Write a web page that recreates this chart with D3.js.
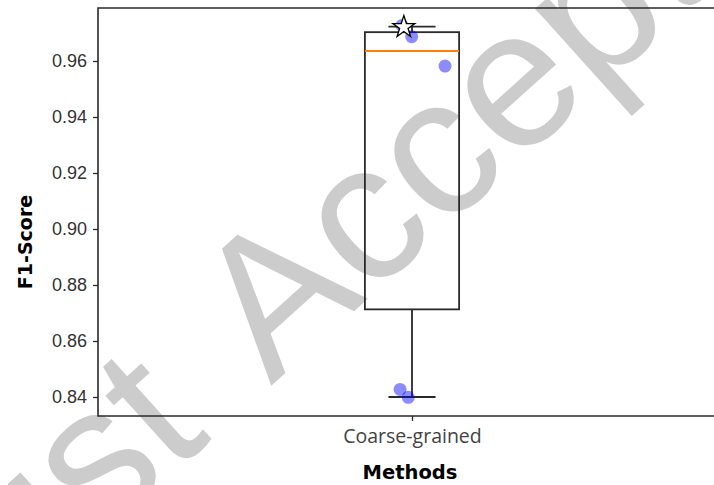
<!DOCTYPE html>
<html>
<head>
<meta charset="utf-8">
<script src="https://cdn.jsdelivr.net/npm/d3@7"></script>
<style>
  html, body { margin: 0; padding: 0; background: #fff; }
  svg { display: block; }
</style>
</head>
<body>
<svg id="chart" width="714" height="485"></svg>
<script>
// ---- data ----
const categories = ["Coarse-grained"];
const categoryPositions = [1];
const boxQ1 = [0.8713];
const boxMedian = [0.9636];
const boxQ3 = [0.9703];
const whiskerLow = [0.8400];
const whiskerHigh = [0.9723];
const pointX = [0.984, 0.9995, 1.0526, 0.981, 0.994];
const pointY = [0.9727, 0.9687, 0.9582, 0.8427, 0.8399];
const starX = [0.987];
const starY = [0.9721];
const yTicks = [0.84, 0.86, 0.88, 0.90, 0.92, 0.94, 0.96];
const yLabel = "F1-Score";
const xLabel = "Methods";
const watermarkWords = ["Just", "Accepted"];

// ---- layout ----
const svg = d3.select("#chart");
const pLeft = 98, pTop = 8, pBottom = 416, pRight = 726;

const x = d3.scaleLinear().domain([0.5, 1.5]).range([pLeft, pRight]);
const y = d3.scaleLinear()
  .domain([0.96 - (pBottom - 61) / 2800, 0.96 + (61 - pTop) / 2800])
  .range([pBottom, pTop]);

// watermark (under plot)
const wmSize = 196;
const wm = svg.append("g")
  .attr("transform", "translate(271,386) rotate(-42)")
  .attr("fill", "#cccccc")
  .attr("font-family", "'Liberation Sans', Arial, sans-serif")
  .attr("font-size", wmSize);
wm.append("text").attr("x", -78).attr("text-anchor", "end").text(watermarkWords[0]);
wm.append("text").attr("x", 0).attr("text-anchor", "start").text(watermarkWords[1]);

const axisColor = "#2a2a2a";

// spines
svg.append("path")
  .attr("d", `M${pRight},${pTop}H${pLeft}V${pBottom}H${pRight}`)
  .attr("fill", "none").attr("stroke", axisColor).attr("stroke-width", 1.6);

// y axis
const yAxis = d3.axisLeft(y).tickValues(yTicks).tickFormat(d3.format(".2f")).tickSize(5).tickPadding(6);
const gy = svg.append("g").attr("transform", `translate(${pLeft},0)`).call(yAxis);
gy.select(".domain").remove();
gy.selectAll(".tick line").attr("stroke", axisColor).attr("stroke-width", 1.3);
gy.selectAll(".tick text")
  .attr("fill", "#333")
  .attr("font-family", "'Liberation Sans', Arial, sans-serif")
  .attr("font-size", 18);

// x axis
const xAxis = d3.axisBottom(x).tickValues(categoryPositions)
  .tickFormat((d, i) => categories[i]).tickSize(5).tickPadding(8);
const gx = svg.append("g").attr("transform", `translate(0,${pBottom})`).call(xAxis);
gx.select(".domain").remove();
gx.selectAll(".tick line").attr("stroke", axisColor).attr("stroke-width", 1.3);
gx.selectAll(".tick text")
  .attr("fill", "#444")
  .attr("font-family", "'Open Sans', sans-serif")
  .attr("font-size", 19.5);

// labels
svg.append("text")
  .attr("x", 410).attr("y", 479)
  .attr("text-anchor", "middle")
  .attr("font-family", "'DejaVu Sans', sans-serif")
  .attr("font-weight", "bold").attr("font-size", 19.5)
  .attr("fill", "#000").text(xLabel);
svg.append("text")
  .attr("transform", "translate(32,242) rotate(-90)")
  .attr("text-anchor", "middle")
  .attr("font-family", "'DejaVu Sans', sans-serif")
  .attr("font-weight", "bold").attr("font-size", 19)
  .attr("fill", "#000").text(yLabel);

// box plot
const boxW = 0.15;
const g = svg.append("g");
categoryPositions.forEach((p, i) => {
  const stroke = axisColor;
  g.append("line").attr("x1", x(p)).attr("x2", x(p))
    .attr("y1", y(boxQ1[i])).attr("y2", y(whiskerLow[i]))
    .attr("stroke", stroke).attr("stroke-width", 1.8);
  g.append("line").attr("x1", x(p)).attr("x2", x(p))
    .attr("y1", y(boxQ3[i])).attr("y2", y(whiskerHigh[i]))
    .attr("stroke", stroke).attr("stroke-width", 1.8);
  [whiskerLow[i], whiskerHigh[i]].forEach(v => {
    g.append("line").attr("x1", x(p - boxW / 4)).attr("x2", x(p + boxW / 4))
      .attr("y1", y(v)).attr("y2", y(v))
      .attr("stroke", stroke).attr("stroke-width", 1.8);
  });
  g.append("rect")
    .attr("x", x(p - boxW / 2)).attr("y", y(boxQ3[i]))
    .attr("width", x(p + boxW / 2) - x(p - boxW / 2))
    .attr("height", y(boxQ1[i]) - y(boxQ3[i]))
    .attr("fill", "none").attr("stroke", stroke).attr("stroke-width", 1.8);
  g.append("line").attr("x1", x(p - boxW / 2)).attr("x2", x(p + boxW / 2))
    .attr("y1", y(boxMedian[i])).attr("y2", y(boxMedian[i]))
    .attr("stroke", "#ff7f0e").attr("stroke-width", 2);
});

// points
g.selectAll("circle.pt").data(pointY).join("circle")
  .attr("class", "pt")
  .attr("cx", (d, i) => x(pointX[i]))
  .attr("cy", d => y(d))
  .attr("r", 6.5)
  .attr("fill", "#0000ff").attr("fill-opacity", 0.45);

// star marker
const star = d3.symbol().type(d3.symbolStar).size(150);
g.selectAll("path.star").data(starY).join("path")
  .attr("class", "star")
  .attr("d", star)
  .attr("transform", (d, i) => `translate(${x(starX[i])},${y(d)})`)
  .attr("fill", "#fff").attr("stroke", "#000").attr("stroke-width", 1.3);
</script>
</body>
</html>
